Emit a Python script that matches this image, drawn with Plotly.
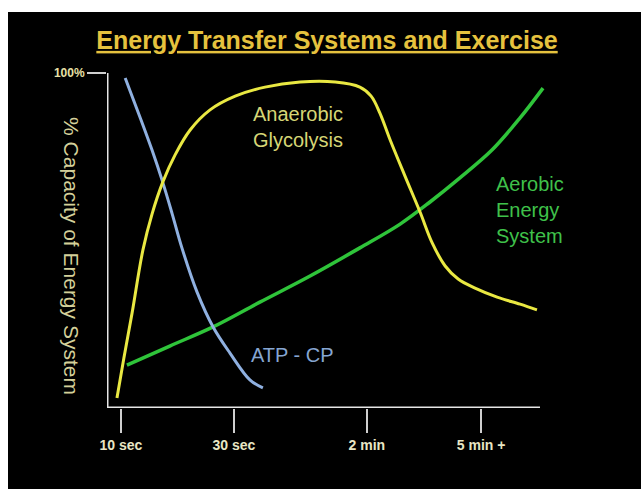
import plotly.graph_objects as go

# Time axis (arbitrary units) and % capacity values
tick_vals = [3.2, 29.3, 60.0, 86.4]
tick_text = ["<b>10 sec</b>", "<b>30 sec</b>", "<b>2 min</b>", "<b>5 min +</b>"]

anaerobic_x = [2.3, 3.9, 5.8, 8.3, 10.4, 12.9, 15.7, 19.2, 23.8, 29.6, 36.5, 44.6,
               52.7, 58.4, 61.0, 63.0, 65.4, 68.8, 72.3, 75.1, 78.1, 81.1, 85.0,
               90.1, 95.4, 99.3]
anaerobic_y = [3.0, 14.9, 28.4, 47.2, 57.9, 67.5, 75.5, 83.0, 89.0, 93.1, 95.8, 97.3,
               97.3, 95.8, 93.1, 88.1, 80.0, 69.3, 58.5, 49.3, 42.4, 38.5, 35.8,
               33.1, 31.0, 29.3]

atp_x = [4.2, 7.6, 10.4, 12.7, 15.0, 17.3, 20.8, 24.5, 28.4, 33.0, 36.0]
atp_y = [98.5, 86.9, 77.0, 68.1, 58.2, 47.8, 34.6, 24.2, 16.4, 8.4, 6.0]

aerobic_x = [4.6, 14.5, 24.5, 35.3, 46.9, 58.4, 67.7, 74.6, 81.5, 88.9, 95.4, 100.7]
aerobic_y = [12.8, 18.5, 24.2, 31.6, 39.4, 47.8, 54.9, 61.5, 68.7, 77.0, 86.6, 95.5]

FONT = "Liberation Sans, Arial, sans-serif"

fig = go.Figure()
fig.add_trace(go.Scatter(x=aerobic_x, y=aerobic_y, mode="lines",
                         line=dict(color="#2fc43a", width=3.5, shape="spline"),
                         hoverinfo="skip"))
fig.add_trace(go.Scatter(x=atp_x, y=atp_y, mode="lines",
                         line=dict(color="#8fb0e0", width=3, shape="spline"),
                         hoverinfo="skip"))
fig.add_trace(go.Scatter(x=anaerobic_x, y=anaerobic_y, mode="lines",
                         line=dict(color="#e9e842", width=3, shape="spline"),
                         hoverinfo="skip"))

# axis frame
fig.add_shape(type="line", x0=0, x1=100, y0=0, y1=0, xref="x", yref="y",
              line=dict(color="#e6e6e6", width=3))
fig.add_shape(type="line", x0=0, x1=0, y0=0, y1=100, xref="x", yref="y",
              line=dict(color="#e6e6e6", width=3))

fig.add_annotation(x=33.3, y=83.9, xref="x", yref="y", xanchor="left", yanchor="middle",
                   text="Anaerobic<br>Glycolysis", showarrow=False, align="left",
                   font=dict(family=FONT, size=20, color="#d6d676"))
fig.add_annotation(x=89.4, y=59.1, xref="x", yref="y", xanchor="left", yanchor="middle",
                   text="Aerobic<br>Energy<br>System", showarrow=False, align="left",
                   font=dict(family=FONT, size=20, color="#3fc14a"))
fig.add_annotation(x=32.8, y=15.8, xref="x", yref="y", xanchor="left", yanchor="middle",
                   text="ATP - CP", showarrow=False, align="left",
                   font=dict(family=FONT, size=20, color="#86a6d2"))
fig.add_annotation(x=-0.079, y=0.44, xref="paper", yref="paper", xanchor="center", yanchor="middle",
                   text="% Capacity of Energy System", showarrow=False, textangle=90,
                   font=dict(family=FONT, size=21, color="#d4d09a"))

fig.update_layout(
    width=633, height=477,
    margin=dict(l=99, r=92, t=51, b=81, autoexpand=False),
    paper_bgcolor="black", plot_bgcolor="black",
    showlegend=False,
    title=dict(text="<b><u>Energy Transfer Systems and Exercise</u></b>",
               x=0.504, xanchor="center", y=0.941, yanchor="middle",
               font=dict(family=FONT, size=25, color="#e6c23e")),
    xaxis=dict(range=[0, 102.08], showgrid=False, zeroline=False, showline=False,
               tickmode="array", tickvals=tick_vals, ticktext=tick_text,
               ticks="outside", ticklen=24, tickwidth=2, tickcolor="#cfcfcf",
               tickfont=dict(family=FONT, size=14, color="#e8e6c4"), fixedrange=True),
    yaxis=dict(range=[0, 103], showgrid=False, zeroline=False, showline=False,
               tickmode="array", tickvals=[100], ticktext=["<b>100%</b>"],
               ticks="outside", ticklen=19, tickwidth=2, tickcolor="#cfcfcf",
               tickfont=dict(family=FONT, size=12, color="#e8e0a6"), fixedrange=True),
)

fig.write_html("out.html", config={"displayModeBar": False},
               post_script="document.body.style.margin='12px 0 0 8px';"
                           "document.body.style.overflow='hidden';")
